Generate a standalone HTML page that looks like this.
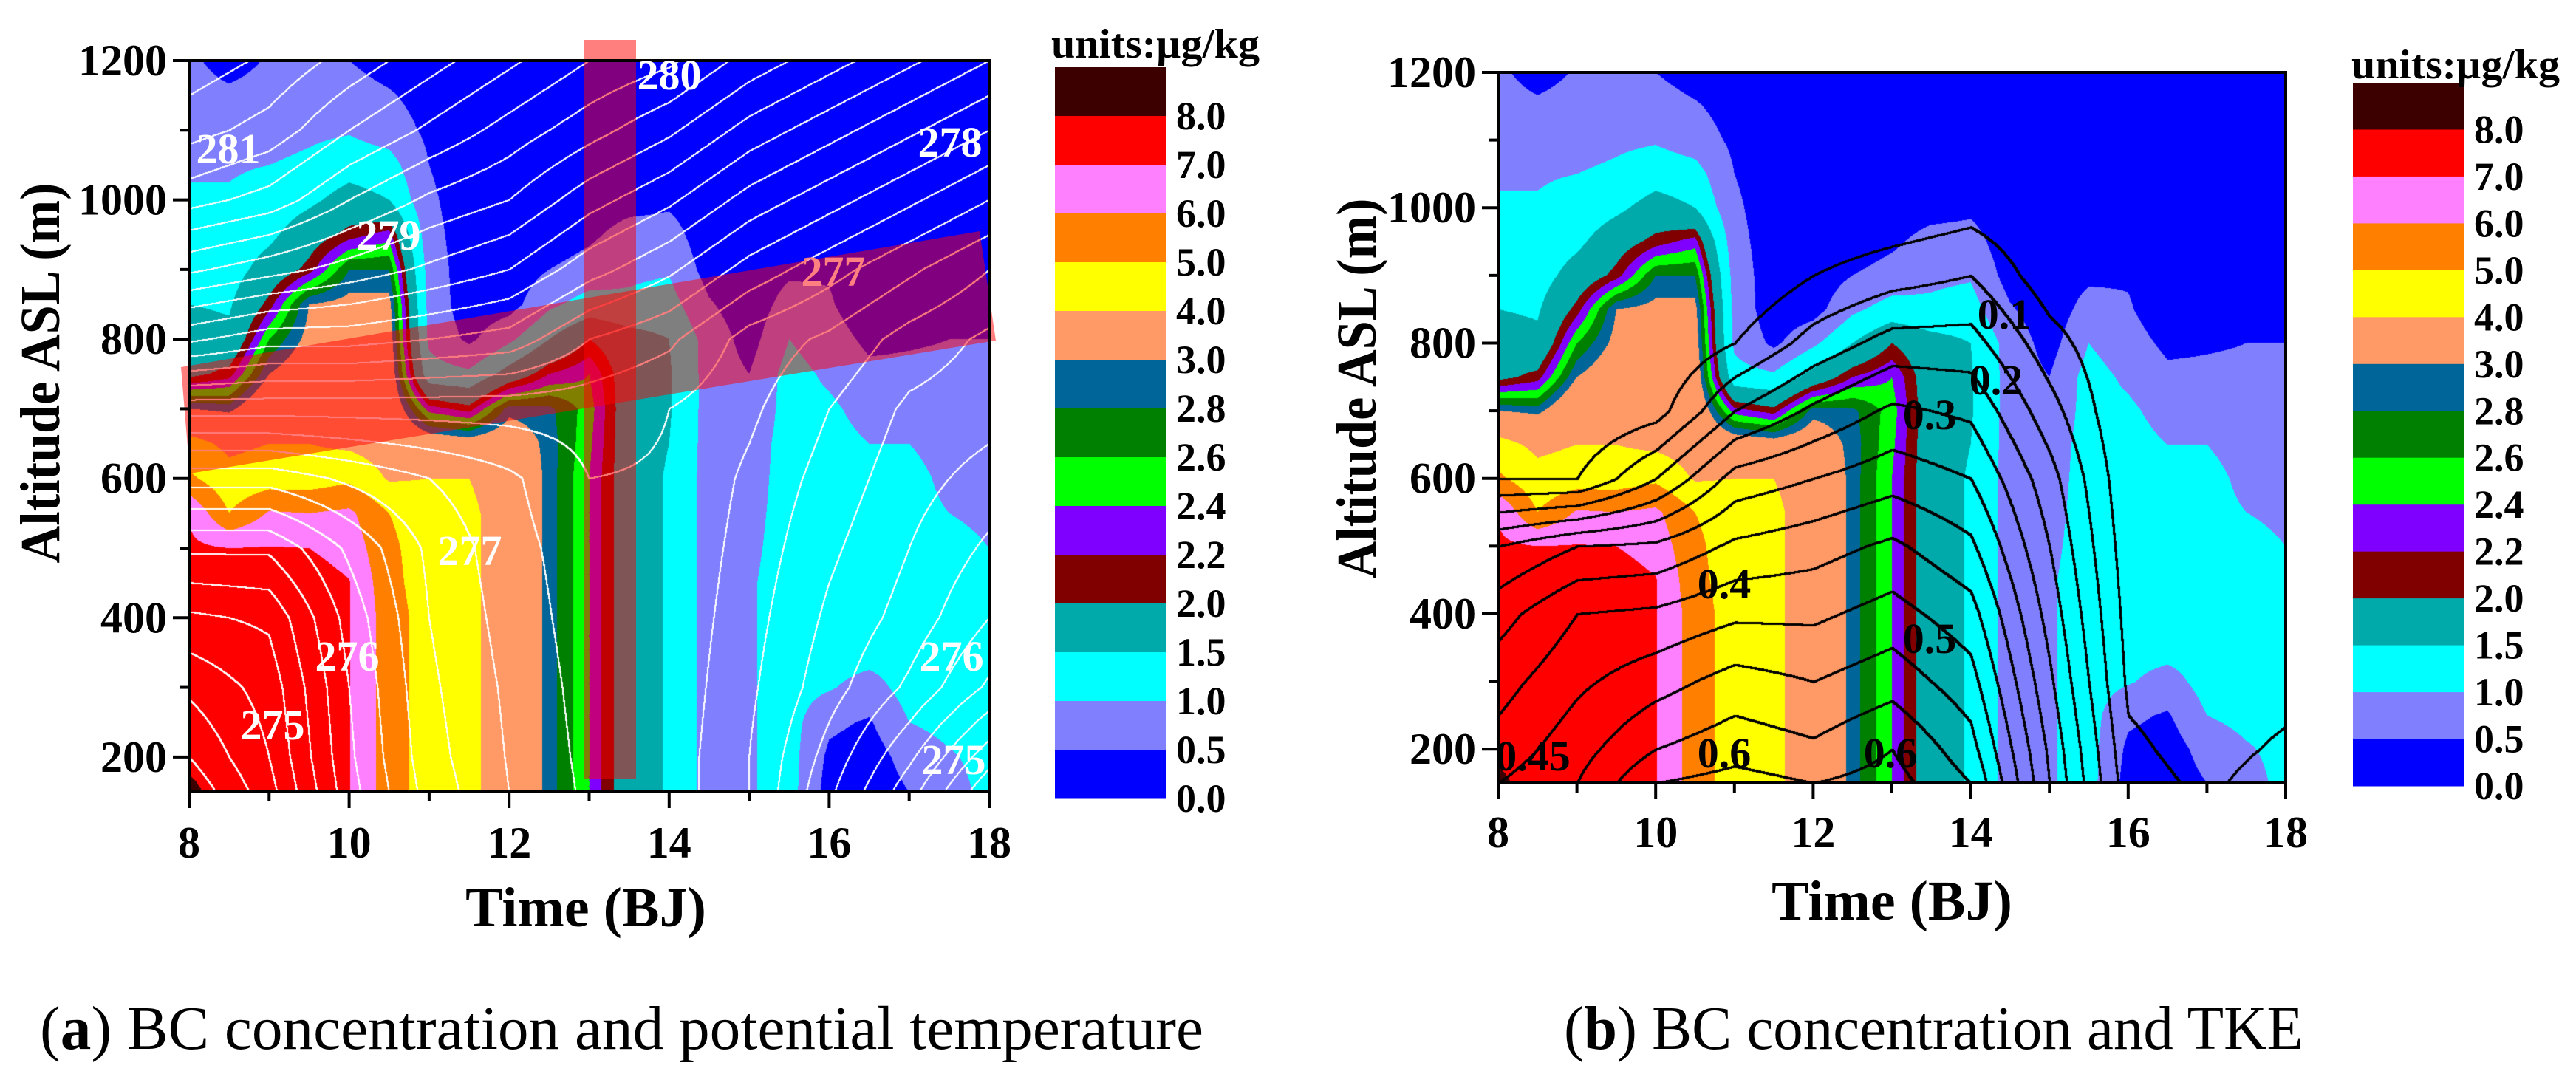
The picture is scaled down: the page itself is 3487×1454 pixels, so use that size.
<!DOCTYPE html>
<html><head><meta charset="utf-8">
<style>
html,body{margin:0;padding:0;background:#fff;width:3487px;height:1454px;overflow:hidden;position:relative}
canvas{position:absolute;display:block}
svg{position:absolute;left:0;top:0}
</style></head>
<body>
<canvas id="fieldA" style="left:256px;top:82px" width="1083" height="990"></canvas>
<canvas id="fieldB" style="left:2028px;top:98px" width="1066" height="962"></canvas>
<svg id="ov" width="3487" height="1454" font-family="'Liberation Serif', 'DejaVu Serif', serif"></svg>
<script>
// ---- data ----
const bcTimes = [8,8.5,9,9.5,10,10.5,11,11.5,12,12.5,13,13.5,14,14.5,15,15.5,16,16.5,17,17.5,18];
const bcAlts = [150,200,250,300,350,400,450,500,550,600,650,700,750,800,850,900,950,1000,1050,1100,1150,1200];
const bcValues = [
[8.2,7.8,7.6,7.5,7.4,7.4,7.3,7.2,6.9,5.2,4.3,3.0,1.9,1.7,1.5,1.3,1.2,1.1,0.9,0.8,0.7,0.6],
[7.6,7.6,7.7,7.8,7.8,7.9,7.9,7.0,5.0,4.3,3.8,2.9,2.1,1.6,1.45,1.3,1.2,1.05,0.95,0.8,0.6,0.3],
[7.5,7.5,7.5,7.5,7.5,7.5,7.5,7.05,6.1,4.5,4.0,3.5,3.0,2.6,2.1,1.7,1.4,1.2,1.0,0.8,0.7,0.55],
[7.5,7.5,7.5,7.5,7.5,7.5,7.5,7.0,6.0,4.5,4.0,3.5,3.3,3.1,3.0,2.1,1.8,1.4,1.1,0.9,0.7,0.55],
[7.05,7.05,7.05,7.05,7.05,7.05,7.05,6.6,6.2,4.8,3.8,3.4,3.3,3.2,3.1,2.8,2.1,1.7,1.3,0.95,0.7,0.5],
[5.5,5.5,5.5,5.5,5.5,5.5,5.3,5.2,5.0,3.9,3.5,3.4,3.3,3.2,3.1,2.8,2.3,1.5,1.2,0.75,0.55,0.3],
[4.5,4.5,4.5,4.5,4.5,4.5,4.5,4.5,4.5,4.0,3.3,2.3,1.2,0.9,0.85,0.8,0.7,0.6,0.5,0.4,0.3,0.2],
[4.2,4.2,4.2,4.2,4.2,4.2,4.2,4.2,4.2,4.0,3.2,2.1,1.1,0.4,0.2,0.2,0.2,0.2,0.2,0.2,0.2,0.2],
[3.5,3.5,3.5,3.5,3.5,3.5,3.5,3.5,3.5,3.5,3.3,2.9,1.7,0.9,0.3,0.2,0.2,0.2,0.2,0.2,0.2,0.2],
[2.9,2.9,2.9,2.9,2.9,2.9,2.9,2.9,2.9,2.9,2.9,2.85,2.2,1.5,0.9,0.5,0.2,0.2,0.2,0.2,0.2,0.2],
[2.4,2.4,2.4,2.4,2.4,2.4,2.4,2.4,2.4,2.4,2.45,2.5,2.4,2.0,1.2,0.7,0.4,0.2,0.2,0.2,0.2,0.2],
[1.75,1.75,1.75,1.75,1.75,1.75,1.75,1.75,1.75,1.75,1.75,1.75,1.75,1.7,1.1,0.9,0.7,0.3,0.2,0.2,0.2,0.2],
[1.45,1.45,1.45,1.45,1.45,1.45,1.45,1.45,1.45,1.45,1.5,1.55,1.55,1.5,1.2,0.95,0.7,0.4,0.2,0.2,0.2,0.2],
[0.8,0.8,0.8,0.8,0.8,0.8,0.8,0.8,0.8,0.8,0.8,0.8,0.8,0.8,0.55,0.3,0.2,0.2,0.2,0.2,0.2,0.2],
[0.95,0.95,0.95,0.95,0.95,0.95,0.95,0.9,0.85,0.8,0.75,0.6,0.5,0.3,0.2,0.2,0.2,0.2,0.2,0.2,0.2,0.2],
[1.2,1.2,1.2,1.2,1.2,1.2,1.2,1.2,1.2,1.2,1.2,1.2,1.2,1.0,0.7,0.4,0.2,0.2,0.2,0.2,0.2,0.2],
[0.3,0.4,0.6,1.05,1.2,1.2,1.2,1.2,1.2,1.2,1.2,1.1,0.9,0.7,0.55,0.45,0.2,0.2,0.2,0.2,0.2,0.2],
[0.2,0.25,0.45,0.8,1.2,1.2,1.2,1.2,1.2,1.2,1.0,0.8,0.6,0.4,0.2,0.2,0.2,0.2,0.2,0.2,0.2,0.2],
[0.5,0.7,1.0,1.2,1.2,1.2,1.2,1.2,1.2,1.2,1.0,0.8,0.6,0.45,0.2,0.2,0.2,0.2,0.2,0.2,0.2,0.2],
[0.8,0.95,1.15,1.15,1.15,1.15,1.15,1.15,1.0,0.85,0.75,0.7,0.6,0.5,0.2,0.2,0.2,0.2,0.2,0.2,0.2,0.2],
[1.15,1.15,1.15,1.15,1.15,1.15,1.15,1.0,0.9,0.8,0.7,0.7,0.7,0.5,0.2,0.2,0.2,0.2,0.2,0.2,0.2,0.2]
];
const lineTimes = [8,9,10,11,12,13,14,15,16,17,18];
const lineAlts = [150,200,300,400,500,600,700,800,900,1000,1100,1200];
const thetaValues = [
[274.3,274.5,274.8,275.2,275.8,276.6,277.6,278.8,279.8,280.6,281.1,281.4],
[274.9,275.0,275.1,275.3,275.8,276.6,277.6,278.6,279.6,280.4,280.9,281.2],
[275.9,275.95,276.0,276.1,276.3,276.8,277.6,278.6,279.4,280.0,280.5,280.9],
[276.6,276.65,276.7,276.75,276.8,277.0,277.6,278.5,279.2,279.7,280.2,280.6],
[277.0,277.02,277.05,277.1,277.15,277.2,277.6,278.4,279.0,279.5,279.9,280.3],
[277.3,277.32,277.35,277.38,277.4,277.5,277.6,278.0,278.6,279.1,279.6,280.0],
[277.4,277.4,277.42,277.44,277.46,277.48,277.5,277.8,278.3,278.8,279.3,279.8],
[277.0,277.0,277.05,277.1,277.15,277.2,277.3,277.4,277.9,278.4,278.9,279.4],
[276.3,276.4,276.6,276.7,276.8,276.9,277.0,277.2,277.6,278.1,278.6,279.1],
[275.6,275.8,276.2,276.4,276.5,276.6,276.7,276.9,277.3,277.8,278.3,278.8],
[274.8,275.1,275.7,276.0,276.2,276.4,276.6,276.7,277.0,277.5,278.0,278.5]
];
const tkeValues = [
[0.45,0.42,0.38,0.33,0.25,0.05,0,0,0,0,0,0],
[0.5,0.48,0.44,0.4,0.3,0.05,0,0,0,0,0,0],
[0.6,0.55,0.48,0.41,0.31,0.15,0.03,0,0,0,0,0],
[0.62,0.58,0.52,0.44,0.36,0.27,0.15,0.05,0,0,0,0],
[0.6,0.56,0.5,0.44,0.38,0.3,0.21,0.12,0.05,0,0,0],
[0.62,0.6,0.53,0.47,0.41,0.33,0.26,0.17,0.08,0.01,0,0],
[0.55,0.52,0.47,0.42,0.36,0.3,0.24,0.17,0.1,0.03,0,0],
[0.3,0.29,0.26,0.23,0.2,0.17,0.12,0.07,0.02,0,0,0],
[0.07,0.06,0.04,0.03,0.02,0.01,0,0,0,0,0,0],
[0.04,0.03,0.02,0.01,0,0,0,0,0,0,0,0],
[0.08,0.06,0.03,0.01,0,0,0,0,0,0,0,0]
];
const levelBounds = [0.5,1.0,1.5,2.0,2.2,2.4,2.6,2.8,3.0,4.0,5.0,6.0,7.0,8.0];
const levelColors = ["#0000ff","#8080ff","#00ffff","#00aaaa","#800000","#8000ff","#00ff00","#008000","#006699","#ff9966","#ffff00","#ff8000","#ff80ff","#ff0000","#3d0000"];
const cbarLabels = ["8.0","7.0","6.0","5.0","4.0","3.0","2.8","2.6","2.4","2.2","2.0","1.5","1.0","0.5","0.0"];
const yTicks = [200,300,400,500,600,700,800,900,1000,1100,1200];
const xTicks = [8,9,10,11,12,13,14,15,16,17,18];

// ---- helpers ----
const SERIF = "'Liberation Serif', 'DejaVu Serif', serif";
function findIdx(arr,v){let i=0;while(i<arr.length-2&&v>arr[i+1])i++;return i;}
function interp(xs,ys,grid,x,y){
  const i=findIdx(xs,x),j=findIdx(ys,y);
  const fx=Math.max(0,Math.min(1,(x-xs[i])/(xs[i+1]-xs[i])));
  const fy=Math.max(0,Math.min(1,(y-ys[j])/(ys[j+1]-ys[j])));
  const a=grid[i][j],b=grid[i+1][j],c=grid[i][j+1],d=grid[i+1][j+1];
  return a*(1-fx)*(1-fy)+b*fx*(1-fy)+c*(1-fx)*fy+d*fx*fy;
}
function hex(h){return [parseInt(h.substr(1,2),16),parseInt(h.substr(3,2),16),parseInt(h.substr(5,2),16)];}
const rgb=levelColors.map(hex);
function bin(v){let k=0;while(k<levelBounds.length&&v>=levelBounds[k])k++;return k;}

function renderField(id,lineGrid,step,lineRGB,thick){
  const cv=document.getElementById(id);const W=cv.width,H=cv.height;
  const ctx=cv.getContext('2d');const img=ctx.createImageData(W,H);const d=img.data;
  const xt=px=>8+10*(px+0.5)/W, yz=py=>1200-1050*(py+0.5)/H;
  const L=new Float32Array(W*H);
  for(let py=0;py<H;py++){const z=yz(py);
    for(let px=0;px<W;px++){const t=xt(px);
      const v=interp(bcTimes,bcAlts,bcValues,t,z);
      const c=rgb[bin(v)];const o=(py*W+px)*4;
      d[o]=c[0];d[o+1]=c[1];d[o+2]=c[2];d[o+3]=255;
      L[py*W+px]=Math.floor(interp(lineTimes,lineAlts,lineGrid,t,z)/step+1e-6);
    }}
  for(let py=0;py<H-1;py++)for(let px=0;px<W-1;px++){
    const k=py*W+px;
    if(L[k]!==L[k+1]||L[k]!==L[k+W]){
      for(let dy=0;dy<thick;dy++)for(let dx=0;dx<thick;dx++){
        const o=((py+dy)*W+px+dx)*4; if(py+dy<H&&px+dx<W){d[o]=lineRGB[0];d[o+1]=lineRGB[1];d[o+2]=lineRGB[2];}
      }}
  }
  ctx.putImageData(img,0,0);
}
renderField('fieldA',thetaValues,0.25,[255,255,255],2);
renderField('fieldB',tkeValues,0.05,[0,0,0],3);

// ---- overlay ----
const NS="http://www.w3.org/2000/svg";const ov=document.getElementById('ov');
function el(tag,attrs,parent){const e=document.createElementNS(NS,tag);for(const k in attrs)e.setAttribute(k,attrs[k]);(parent||ov).appendChild(e);return e;}
function txt(s,attrs,parent){attrs['font-family']=SERIF;const e=el('text',attrs,parent);e.textContent=s;return e;}

function panel(P){
  const g=el('g',{});
  
  
  const xs=t=>P.x0+(t-8)/10*(P.x1-P.x0);
  const ys=z=>P.y1-(z-150)/1050*(P.y1-P.y0);
  if(P.overlay){
    const r=el('rect',{x:791,y:54,width:70,height:1000,fill:'rgba(255,0,0,0.5)'},g);
    
    
    const p=el('polygon',{points:'245,497 1326,313 1348,461 257,641',fill:'rgba(255,0,0,0.5)'},g);
    
    
  }
  const fr=el('rect',{x:P.x0,y:P.y0,width:P.x1-P.x0,height:P.y1-P.y0,fill:'none',stroke:'#000','stroke-width':4},g);
  
  
  yTicks.forEach(z=>{const y=ys(z);const major=z%200===0;
    const tk=el('line',{x1:P.x0-(major?22:13),x2:P.x0,y1:y,y2:y,stroke:'#000','stroke-width':4},g);
    
    
    if(major){const l=txt(String(z),{x:P.x0-30,y:y+20,'font-size':60,'font-weight':'bold','text-anchor':'end'},g);
      
      }
  });
  xTicks.forEach(t=>{const x=xs(t);const major=(t%2===0);
    const tk=el('line',{x1:x,x2:x,y1:P.y1,y2:P.y1+(major?22:13),stroke:'#000','stroke-width':4},g);
    
    
    if(major){const l=txt(String(t),{x:x,y:P.xlabY,'font-size':60,'font-weight':'bold','text-anchor':'middle'},g);
      
      }
  });
  const xt=txt('Time (BJ)',{x:P.xtX,y:P.xtY,'font-size':76,'font-weight':'bold','text-anchor':'middle'},g);
  
  
  const yt=txt('Altitude ASL (m)',{x:0,y:0,'font-size':76,'font-weight':'bold','text-anchor':'middle',transform:`translate(${P.ytX},${P.ytY}) rotate(-90)`,textLength:515,lengthAdjust:'spacingAndGlyphs'},g);
  
  
  const cb=el('g',{},g);
  
  
  const bh=(P.cb1-P.cb0)/15;
  for(let k=0;k<15;k++){
    const r=el('rect',{x:P.cbx,y:P.cb0+k*bh,width:150,height:bh+0.5,fill:levelColors[14-k]},cb);
    
    
    const l=txt(cbarLabels[k],{x:P.cbx+164,y:P.cb0+(k+1)*bh+18,'font-size':54,'font-weight':'bold'},cb);
    
    
  }
  const u=txt('units:µg/kg',{x:P.ux,y:P.uy,'font-size':56,'font-weight':'bold',textLength:282,lengthAdjust:'spacingAndGlyphs'},g);
  
  
  P.labels.forEach(L=>{
    const l=txt(L[0],{x:L[1],y:L[2]+20,'font-size':58,'font-weight':'bold','text-anchor':'middle',fill:L[3]},g);
    
    
  });
  const cap=txt('',{x:P.capX,y:P.capY,'font-size':84,textLength:P.capW,lengthAdjust:'spacingAndGlyphs'},g);
  
  
  const t1=el('tspan',{},cap);t1.textContent='(';
  const t2=el('tspan',{'font-weight':'bold'},cap);t2.textContent=P.letter;
  const t3=el('tspan',{},cap);t3.textContent=P.caption;
}
panel({name:'panel-a',x0:256,x1:1339,y0:82,y1:1072,xlabY:1161,xtX:793,xtY:1254,ytX:80,ytY:505,
  cbx:1428,cb0:91,cb1:1081,ux:1423,uy:78,overlay:true,letter:'a',caption:') BC concentration and potential temperature',
  capX:54,capY:1420,capW:1575,
  labels:[['281',309,201,'#fff'],['279',526,318,'#fff'],['280',906,101,'#fff'],['278',1286,192,'#fff'],['277',1128,367,'#ff8080'],['277',636,745,'#fff'],['276',470,888,'#fff'],['275',369,981,'#fff'],['276',1288,888,'#fff'],['275',1291,1028,'#fff']]});
panel({name:'panel-b',x0:2028,x1:3094,y0:98,y1:1060,xlabY:1147,xtX:2561,xtY:1245,ytX:1862,ytY:526,
  cbx:3185,cb0:112,cb1:1064,ux:3183,uy:106,overlay:false,letter:'b',caption:') BC concentration and TKE',
  capX:2117,capY:1420,capW:1001,
  labels:[['0.1',2713,425,'#000'],['0.2',2702,514,'#000'],['0.3',2612,561,'#000'],['0.4',2334,790,'#000'],['0.5',2612,864,'#000'],['0.6',2334,1019,'#000'],['0.6',2559,1019,'#000'],['0.45',2075,1023,'#000']]});
</script>
</body></html>
